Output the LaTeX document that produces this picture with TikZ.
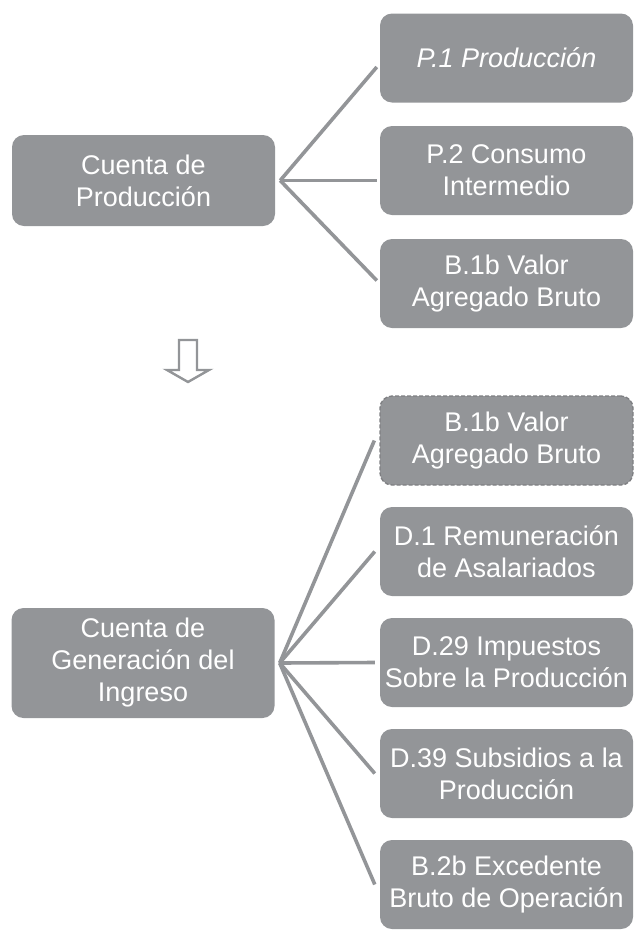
\documentclass[tikz,border=0pt]{standalone}
\usepackage{fontspec}
\setmainfont{Liberation Sans}
\definecolor{boxgray}{HTML}{939598}
\definecolor{dashgray}{HTML}{7E7F82}
\begin{document}
\begin{tikzpicture}[x=1pt,y=-1pt,
  box/.style={rectangle, fill=boxgray, rounded corners=12pt, text=white,
    font=\fontsize{27}{32}\selectfont, align=center, inner sep=0pt,
    minimum width=253pt, minimum height=89pt},
  leftbox/.style={box, minimum width=263pt},
  dashbox/.style={box, draw=dashgray, line width=1.3pt, dash pattern=on 4pt off 2pt},
  conn/.style={draw=boxgray, line width=3.6pt},
  hollowarrow/.style={draw=boxgray, line width=2.4pt, fill=white, line join=miter}
]
\useasboundingbox (0,0) rectangle (635,930);

% ---- top block ----
\node[leftbox, minimum height=91pt] (lp) at (143.5,180.5) {Cuenta de\\Producción};
\node[box] (p1) at (506.5,58) {\itshape P.1 Producción};
\node[box] (p2) at (506.5,170.5) {P.2 Consumo\\Intermedio};
\node[box] (b1a) at (506.5,283.5) {B.1b Valor\\Agregado Bruto};

\coordinate (j1) at ([xshift=5pt]lp.east);
\path (p2.west |- j1) ++(-3,0) coordinate (e2);
\draw[conn] (j1) -- ([xshift=-3pt,yshift=-9pt]p1.west);
\draw[conn] (j1) -- (e2);
\draw[conn] (j1) -- ([xshift=-3pt,yshift=3pt]b1a.west);

% ---- hollow down arrow ----
\draw[hollowarrow] (179,340) -- (197,340) -- (197,370) -- (209,370) -- (188,382)
  -- (167,370) -- (179,370) -- cycle;

% ---- bottom block ----
\node[leftbox, minimum height=110pt] (lg) at (143,663) {Cuenta de\\Generación del\\Ingreso};
\node[dashbox] (b1b) at (506.5,440.5) {B.1b Valor\\Agregado Bruto};
\node[box] (d1) at (506.5,551.5) {D.1 Remuneración\\de Asalariados};
\node[box] (d29) at (506.5,662.5) {D.29 Impuestos\\Sobre la Producción};
\node[box] (d39) at (506.5,773.5) {D.39 Subsidios a la\\Producción};
\node[box] (b2b) at (506.5,884.5) {B.2b Excedente\\Bruto de Operación};

\coordinate (j2) at ([xshift=5pt]lg.east);
\draw[conn] (j2) -- ([xshift=-5pt]b1b.west);
\draw[conn] (j2) -- ([xshift=-5pt]d1.west);
\draw[conn] (j2) -- ([xshift=-5pt]d29.west);
\draw[conn] (j2) -- ([xshift=-5pt]d39.west);
\draw[conn] (j2) -- ([xshift=-5pt]b2b.west);
\end{tikzpicture}
\end{document}
